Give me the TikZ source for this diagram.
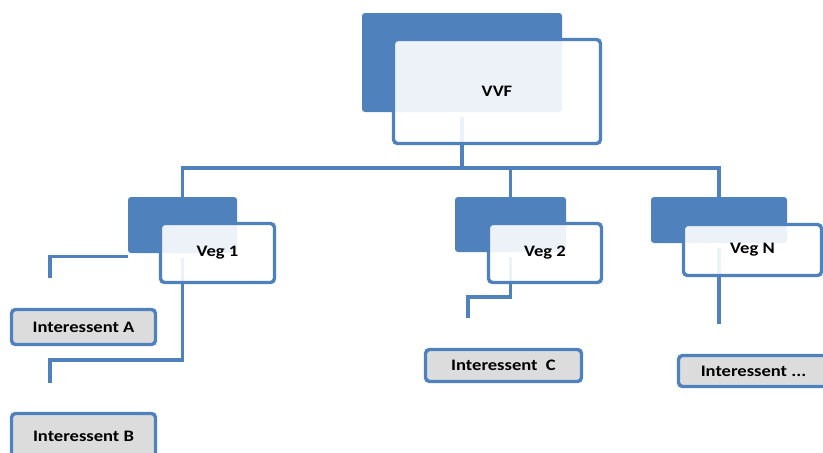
\documentclass[tikz,border=0pt]{standalone}
\usepackage{fontspec}
\setmainfont{Carlito}[FakeStretch=1.16]
\definecolor{blueA}{HTML}{4F81BD}
\definecolor{boxgray}{HTML}{DCDCDC}
\begin{document}
\begin{tikzpicture}[x=1pt,y=-1pt,
  back/.style={fill=blueA, rounded corners=3pt, inner sep=0pt},
  front/.style={draw=blueA, line width=3.4pt, fill=white, fill opacity=0.9, text opacity=1,
                rounded corners=4pt, inner sep=0pt, font=\fontsize{16}{18}\selectfont\bfseries},
  leaf/.style={draw=blueA, line width=3.4pt, fill=boxgray, rounded corners=4pt, inner sep=0pt,
               font=\fontsize{16}{18}\selectfont\bfseries},
  wire/.style={draw=blueA, line width=3.2pt}]
\useasboundingbox (0,0) rectangle (823,453);
\clip (0,0) rectangle (823,453);

% dark back plates
\node[back, minimum width=200pt, minimum height=99pt] (vvfb) at (462,62.5) {};
\node[back, minimum width=109pt, minimum height=56pt] (v1b) at (182.5,225) {};
\node[back, minimum width=111pt, minimum height=55pt] (v2b) at (510.5,224.5) {};
\node[back, minimum width=136pt, minimum height=46pt] (vnb) at (719,220) {};

% bus and drops from the top box
\coordinate (bus) at (462,168);
\draw[wire] ([yshift=-5pt]vvfb.south) -- (bus);
\draw[wire] (v1b.north) -- (v1b.north |- bus) -- (vnb.north |- bus) -- (vnb.north);
\draw[wire] (v2b.north) -- (v2b.north |- bus);

% branches below the second level
\coordinate (aStart) at ([yshift=-3pt]v1b.south west);
\coordinate (aEnd) at (50,278);
\coordinate (bTurn) at (182.5,360);
\coordinate (bEnd) at (50,383);
\coordinate (cTurn) at (510.5,297);
\coordinate (cEnd) at (468,318);
\coordinate (nEnd) at (719,324);
\draw[wire] (aStart) -- (aEnd |- aStart) -- (aEnd);
\draw[wire] ([yshift=-5pt]v1b.south) -- (bTurn) -- (bEnd |- bTurn) -- (bEnd);
\draw[wire] ([yshift=-5pt]v2b.south) -- (cTurn) -- (cEnd |- cTurn) -- (cEnd);
\draw[wire] ([yshift=-5pt]vnb.south) -- (nEnd);

% light front boxes
\node[front, minimum width=207pt, minimum height=104pt] (vvf) at (497,91.5) {VVF};
\node[front, minimum width=114pt, minimum height=59pt] (v1) at (217.5,253) {Veg 1};
\node[front, minimum width=113pt, minimum height=59pt] (v2) at (545,253) {Veg 2};
\node[front, minimum width=138pt, minimum height=51pt] (vn) at (752.5,250) {Veg N};

% leaf boxes
\node[leaf, minimum width=144pt, minimum height=35pt] (ia) at (83.5,327) {Interessent A};
\node[leaf, minimum width=144pt, minimum height=45pt] (ib) at (83.5,436) {Interessent B};
\node[leaf, minimum width=156pt, minimum height=32pt] (ic) at (503.5,365.5) {Interessent\ \ C};
\node[leaf, minimum width=150pt, minimum height=31pt] (in) at (753.5,371) {Interessent ...};
\end{tikzpicture}
\end{document}
